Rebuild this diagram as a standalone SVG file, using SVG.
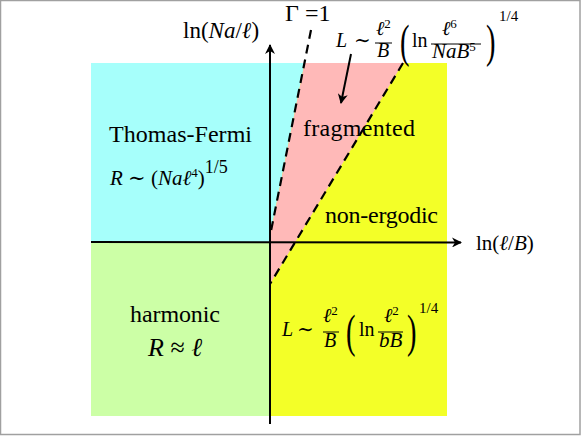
<svg xmlns="http://www.w3.org/2000/svg" width="581" height="436" viewBox="0 0 581 436">
<style>
text{font-family:"Liberation Serif","DejaVu Serif",serif;fill:#000}
.m{font-style:italic}
.lbl{font-size:24px}
.f{font-size:20px}
.s{font-size:13px}
.ax{stroke:#000;stroke-width:2;fill:none}
.dash{stroke:#000;stroke-width:2.2;stroke-dasharray:9,6;fill:none}
.bar{stroke:#000;stroke-width:1}
</style>
<defs>
<marker id="ah" viewBox="0 0 10 10" refX="9" refY="5" markerWidth="10" markerHeight="10" markerUnits="userSpaceOnUse" orient="auto">
<path d="M0,0 L10,5 L0,10 L3,5 z" fill="#000"/>
</marker>
</defs>
<rect x="0" y="0" width="581" height="436" fill="#fff"/>
<rect x="0.5" y="0.5" width="579.5" height="434" fill="none" stroke="#a0a0a0" stroke-width="1.5"/>

<g id="regions">
<rect id="cyan" x="91" y="63" width="179" height="179" fill="#a6fffb"/>
<rect id="green" x="91" y="242" width="179" height="174" fill="#ccffa6"/>
<rect id="yellow" x="270" y="63" width="177" height="353" fill="#f3ff28"/>
<polygon id="cyanwedge" points="270,63 304.6,63 270,236" fill="#a6fffb"/>
<polygon id="pink" points="304.6,63 403,63 270,284 270,236" fill="#ffb9b8"/>
</g>

<g id="connectors">
<line class="ax" x1="91" y1="242" x2="461" y2="242.5" marker-end="url(#ah)"/>
<line class="ax" x1="270" y1="424" x2="270" y2="45" marker-end="url(#ah)"/>
<line class="dash" x1="311" y1="30" x2="270" y2="236"/>
<line class="dash" x1="403" y1="63" x2="270" y2="284"/>
<line class="ax" x1="351" y1="54" x2="341" y2="103" marker-end="url(#ah)"/>
</g>

<g id="axis-y-label"><text x="183" y="38" style="font-size:23px">ln(<tspan class="m">Na</tspan>/<tspan class="m">ℓ</tspan>)</text></g>
<g id="axis-x-label"><text x="476" y="250" style="font-size:21px">ln(<tspan class="m">ℓ</tspan>/<tspan class="m">B</tspan>)</text></g>
<g id="gamma-label"><text x="285" y="21" style="font-size:24px">Γ =1</text></g>

<g id="top-formula">
<text class="f m" x="336" y="47">L</text>
<text class="f" x="354" y="47">∼</text>
<text class="f m" x="376" y="35">ℓ<tspan class="s" style="font-style:normal" dy="-7">2</tspan></text>
<line class="bar" x1="375" y1="43" x2="392" y2="43"/>
<text class="f m" x="377" y="57">B</text>
<text x="400" y="57" style="font-size:46px" transform="translate(400,0) scale(0.62,1) translate(-400,0)">(</text>
<text class="f" x="412" y="47">ln</text>
<text class="f m" x="442" y="35">ℓ<tspan class="s" style="font-style:normal" dy="-7">6</tspan></text>
<line class="bar" x1="431" y1="44" x2="481" y2="44"/>
<text class="m" x="432" y="58" style="font-size:21px">NaB<tspan class="s" style="font-style:normal" dy="-7">5</tspan></text>
<text x="486" y="57" style="font-size:46px" transform="translate(486,0) scale(0.62,1) translate(-486,0)">)</text>
<text x="499" y="21" style="font-size:15px">1/4</text>
</g>

<g id="thomas-fermi">
<text class="lbl" x="109" y="142" textLength="143" lengthAdjust="spacing">Thomas-Fermi</text>
<text x="110" y="185" style="font-size:21px"><tspan class="m">R</tspan> ∼ (<tspan class="m">Naℓ</tspan><tspan class="s" dy="-8">4</tspan><tspan dy="8">)</tspan><tspan style="font-size:18px" dy="-12">1/5</tspan></text>
</g>

<g id="fragmented"><text class="lbl" x="303" y="136" textLength="112" lengthAdjust="spacing">fragmented</text></g>
<g id="non-ergodic"><text class="lbl" x="325" y="223" textLength="113" lengthAdjust="spacing">non-ergodic</text></g>

<g id="harmonic">
<text class="lbl" x="130" y="322" textLength="90" lengthAdjust="spacing">harmonic</text>
<text x="148" y="356" style="font-size:26px"><tspan class="m">R</tspan> ≈ <tspan class="m">ℓ</tspan></text>
</g>

<g id="bottom-formula">
<text class="f m" x="282" y="336">L</text>
<text class="f" x="297" y="336">∼</text>
<text class="f m" x="323" y="322">ℓ<tspan class="s" style="font-style:normal" dy="-7">2</tspan></text>
<line class="bar" x1="323" y1="332" x2="339" y2="332"/>
<text class="f m" x="324" y="347">B</text>
<text x="346" y="347" style="font-size:46px" transform="translate(346,0) scale(0.62,1) translate(-346,0)">(</text>
<text class="f" x="359" y="336">ln</text>
<text class="f m" x="384" y="322">ℓ<tspan class="s" style="font-style:normal" dy="-7">2</tspan></text>
<line class="bar" x1="378" y1="332" x2="403" y2="332"/>
<text class="m" x="379" y="347" style="font-size:21px">bB</text>
<text x="407" y="347" style="font-size:46px" transform="translate(407,0) scale(0.62,1) translate(-407,0)">)</text>
<text x="419" y="313" style="font-size:15px">1/4</text>
</g>
</svg>
